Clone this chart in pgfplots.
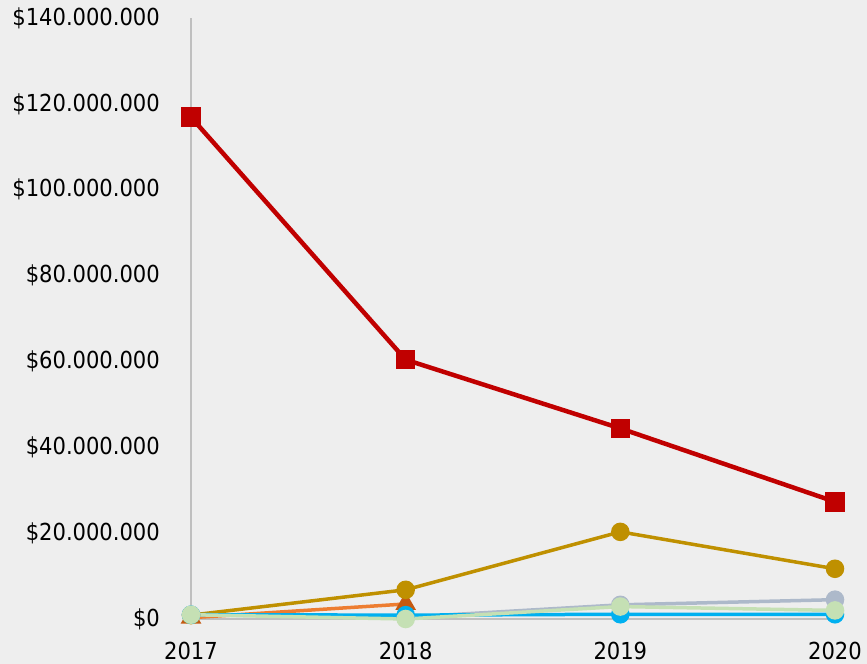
\documentclass[border=0pt]{standalone}
\usepackage{fontspec}
\setmainfont{DejaVu Sans Condensed}
\usepackage{pgfplots}
\pgfplotsset{compat=1.18}
\usetikzlibrary{backgrounds,calc}
\definecolor{bg}{HTML}{EEEEEE}
\definecolor{cred}{HTML}{C00000}
\definecolor{cgold}{HTML}{BF9000}
\definecolor{corange}{HTML}{ED7D31}
\definecolor{cdorange}{HTML}{C55A11}
\definecolor{cblue}{HTML}{00B0F0}
\definecolor{cgrayblue}{HTML}{ADB9CA}
\definecolor{cgreen}{HTML}{C5E0B4}
\definecolor{caxis}{HTML}{BFBFBF}
\begin{document}
\begin{tikzpicture}
\begin{axis}[
  name=ax,
  scale only axis,
  width=644bp, height=601bp,
  xmin=2017, xmax=2020,
  ymin=0, ymax=140,
  axis lines*=left,
  axis line style={caxis, line width=1.2bp},
  clip=false,
  xtick={2017,2018,2019,2020},
  xticklabels={2017,2018,2019,2020},
  ytick={0,20,40,60,80,100,120,140},
  yticklabels={\$0,\$20.000.000,\$40.000.000,\$60.000.000,\$80.000.000,\$100.000.000,\$120.000.000,\$140.000.000},
  major tick length=0pt,
  tick label style={font=\fontsize{23.5}{27}\selectfont, text=black},
  yticklabel style={inner sep=0pt, anchor=east, xshift=-31bp},
  xticklabel style={inner sep=0pt, anchor=north, yshift=-23bp},
]
% orange
\addplot[corange, line width=3.5bp, mark=triangle*, mark size=8.5bp, mark options={fill=cdorange, draw=cdorange}]
  coordinates {(2017,0.3) (2018,3.5)};
% gold
\addplot[cgold, line width=3.5bp, mark=*, mark size=7.5bp, mark options={fill=cgold, draw=cgold}]
  coordinates {(2017,0.9) (2018,6.8) (2019,20.3) (2020,11.7)};
% gray-blue
\addplot[cgrayblue, line width=3.5bp, mark=*, mark size=7.5bp, mark options={fill=cgrayblue, draw=cgrayblue}]
  coordinates {(2017,1.0) (2018,0.4) (2019,3.3) (2020,4.5)};
% blue
\addplot[cblue, line width=3.5bp, mark=*, mark size=7.5bp, mark options={fill=cblue, draw=cblue}]
  coordinates {(2017,1.0) (2018,0.9) (2019,1.1) (2020,1.1)};
% light green
\addplot[cgreen, line width=3.5bp, mark=*, mark size=7.5bp, mark options={fill=cgreen, draw=cgreen}]
  coordinates {(2017,1.0) (2018,0.0) (2019,2.9) (2020,2.0)};
% red
\addplot[cred, line width=4.5bp, mark=square*, mark size=7.5bp, mark options={fill=cred, draw=cred}]
  coordinates {(2017,116.9) (2018,60.4) (2019,44.4) (2020,27.3)};
\end{axis}
\begin{scope}[on background layer]
\fill[bg] ($(ax.south west)+(-191bp,-45bp)$) rectangle ($(ax.north east)+(32bp,18bp)$);
\end{scope}
\end{tikzpicture}
\end{document}
